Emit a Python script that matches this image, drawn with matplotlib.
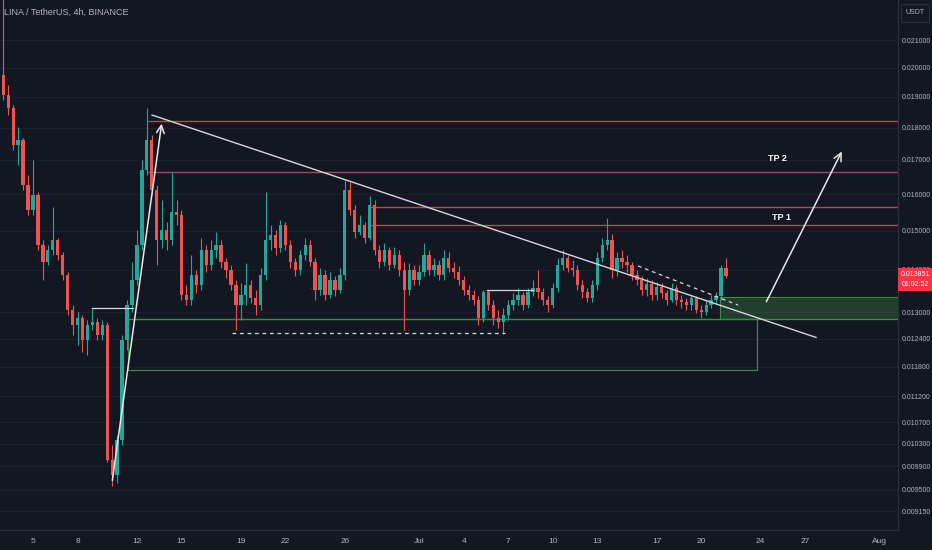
import numpy as np
import matplotlib
matplotlib.use("Agg")
import matplotlib.pyplot as plt
from matplotlib.patches import Rectangle
from matplotlib.ticker import FixedLocator, NullLocator, NullFormatter

plt.rcParams['font.family'] = ['Liberation Sans', 'DejaVu Sans']

# 8h candles, prices in 1e-5 USDT, first candle starts Jun 3
first_open = 1974
closes = [1906, 1862, 1745, 1760, 1626, 1556, 1598, 1463, 1420, 1450,
          1476, 1437, 1388, 1304, 1270, 1286, 1237, 1270, 1277, 1248,
          1270, 1001, 975, 1037, 1237, 1316, 1375, 1463, 1670, 1760,
          1612, 1476, 1502, 1476, 1551, 1542, 1339, 1328, 1388, 1363,
          1450, 1413, 1450, 1463, 1420, 1400, 1363, 1316, 1339, 1363,
          1333, 1316, 1388, 1476, 1489, 1455, 1515, 1463, 1420, 1400,
          1437, 1463, 1420, 1351, 1388, 1339, 1375, 1351, 1388, 1612,
          1556, 1497, 1515, 1481, 1570, 1450, 1420, 1450, 1413, 1437,
          1400, 1351, 1400, 1375, 1395, 1437, 1400, 1413, 1388, 1430,
          1405, 1395, 1375, 1351, 1339, 1328, 1286, 1346, 1316, 1286,
          1277, 1293, 1316, 1328, 1339, 1316, 1346, 1356, 1346, 1328,
          1316, 1356, 1413, 1430, 1405, 1400, 1363, 1346, 1333, 1363,
          1430, 1463, 1476, 1400, 1430, 1420, 1413, 1388, 1375, 1351,
          1366, 1339, 1358, 1344, 1328, 1356, 1328, 1323, 1316, 1333,
          1304, 1300, 1316, 1328, 1337, 1405, 1385]
highs = [2290, 1940, 1872, 1801, 1766, 1655, 1700, 1606, 1476, 1463,
         1564, 1481, 1445, 1395, 1316, 1300, 1293, 1282, 1309, 1286,
         1282, 1277, 1028, 1046, 1248, 1328, 1420, 1502, 1700, 1862,
         1776, 1626, 1584, 1524, 1664, 1584, 1556, 1363, 1437, 1400,
         1481, 1463, 1476, 1497, 1476, 1430, 1413, 1375, 1368, 1418,
         1375, 1351, 1405, 1606, 1515, 1502, 1529, 1524, 1476, 1430,
         1450, 1481, 1476, 1430, 1405, 1400, 1395, 1385, 1405, 1641,
         1635, 1570, 1542, 1524, 1595, 1584, 1463, 1468, 1458, 1458,
         1450, 1420, 1418, 1413, 1413, 1468, 1450, 1430, 1425, 1450,
         1445, 1420, 1410, 1385, 1363, 1351, 1337, 1351, 1351, 1328,
         1304, 1309, 1328, 1344, 1356, 1346, 1356, 1375, 1400, 1356,
         1337, 1368, 1430, 1450, 1437, 1425, 1413, 1375, 1356, 1375,
         1445, 1481, 1535, 1492, 1445, 1450, 1437, 1420, 1400, 1385,
         1380, 1375, 1370, 1368, 1351, 1368, 1363, 1339, 1333, 1339,
         1337, 1316, 1328, 1339, 1346, 1413, 1430]
lows = [1889, 1840, 1730, 1685, 1612, 1542, 1542, 1450, 1375, 1413,
        1437, 1425, 1375, 1293, 1248, 1226, 1212, 1205, 1259, 1237,
        1237, 997, 957, 961, 1028, 1216, 1300, 1363, 1450, 1655,
        1598, 1413, 1455, 1450, 1463, 1515, 1328, 1316, 1316, 1344,
        1351, 1395, 1400, 1430, 1405, 1380, 1351, 1259, 1282, 1316,
        1321, 1293, 1304, 1375, 1450, 1437, 1445, 1450, 1405, 1385,
        1388, 1425, 1410, 1328, 1339, 1328, 1333, 1337, 1344, 1375,
        1542, 1481, 1489, 1468, 1476, 1437, 1405, 1410, 1400, 1405,
        1385, 1259, 1339, 1363, 1363, 1385, 1388, 1385, 1375, 1375,
        1395, 1380, 1363, 1339, 1328, 1316, 1270, 1277, 1304, 1270,
        1264, 1250, 1282, 1304, 1316, 1304, 1309, 1337, 1333, 1316,
        1300, 1309, 1346, 1400, 1395, 1385, 1351, 1333, 1323, 1323,
        1351, 1420, 1450, 1380, 1385, 1405, 1395, 1375, 1363, 1339,
        1337, 1328, 1328, 1333, 1316, 1323, 1316, 1309, 1304, 1304,
        1297, 1286, 1293, 1309, 1321, 1328, 1380]

date_ticks = [5, 8, 12, 15, 19, 22, 26, 31, 34, 37, 40, 43, 47, 50, 54, 57, 62]
date_labels = ["5", "8", "12", "15", "19", "22", "26", "Jul", "4", "7",
               "10", "13", "17", "20", "24", "27", "Aug"]
price_ticks = [0.021, 0.020, 0.019, 0.018, 0.017, 0.016, 0.015, 0.014, 0.013,
               0.0124, 0.0118, 0.0112, 0.0107, 0.0103, 0.0099, 0.0095, 0.00915]

BG = "#131722"
UP = "#26a69a"
DOWN = "#ef5350"
TXT = "#b2b5be"

c = np.array(closes) / 1e5
h = np.array(highs) / 1e5
l = np.array(lows) / 1e5
o = np.concatenate([[first_open / 1e5], c[:-1]])
t = 3.0 + np.arange(len(c)) / 3.0  # days since Jun 0
cols = [UP if cc >= oo else DOWN for oo, cc in zip(o, c)]

fig = plt.figure(figsize=(9.32, 5.5), dpi=100, facecolor=BG)
ax = fig.add_axes([0, 20 / 550, 898 / 932, 530 / 550])
ax.set_facecolor(BG)
ax.set_yscale("log")
ax.set_xlim(2.78, 63.25)
ax.set_ylim(0.00885, 0.02254)

for p in price_ticks:
    ax.axhline(p, color="#1c202c", lw=0.8, zorder=0)

ax.vlines(t, l, h, colors=cols, lw=0.8, zorder=3)
ax.bar(t, np.maximum(np.abs(c - o), 1e-6), bottom=np.minimum(o, c), width=0.22,
       color=cols, zorder=4, linewidth=0)

# resistance levels
ax.hlines(0.01821, 12.75, 63.25, colors="#c2404f", lw=1.0, zorder=2)
ax.hlines(0.01664, 12.75, 63.25, colors="#a2486a", lw=1.0, zorder=2)
ax.hlines([0.01564, 0.01515], 27.7, 63.25, colors="#c2404f", lw=1.0, zorder=2)

# green zones
ax.add_patch(Rectangle((51.27, 0.01284), 63.25 - 51.27, 0.01335 - 0.01284,
                       facecolor=(0.30, 0.69, 0.31, 0.25), edgecolor="#3c8a40",
                       lw=0.8, zorder=2))
ax.add_patch(Rectangle((11.40, 0.01173), 53.76 - 11.40, 0.01284 - 0.01173,
                       facecolor="none", edgecolor="#3c8a40", lw=0.9, zorder=2))
ax.hlines(0.01284, 11.40, 63.25, colors="#3c8a40", lw=0.9, zorder=2)

# trend lines
ax.plot([13.02, 57.73], [0.01840, 0.01243], color="#d8d8d8", lw=1.0, zorder=5)
ax.plot([45.74, 52.48], [0.01410, 0.01316], color="#d8d8d8", lw=0.9, ls=(0, (3, 3)), zorder=5)
ax.plot([18.40, 36.79], [0.01252, 0.01252], color="#d8d8d8", lw=0.9, ls=(0, (3, 3)), zorder=5)
ax.plot([8.98, 11.74], [0.01309, 0.01309], color="#d8d8d8", lw=0.9, zorder=5)
ax.plot([35.57, 38.67], [0.01351, 0.01351], color="#d8d8d8", lw=0.9, zorder=5)

# arrows
for (x0, y0), (x1, y1) in [((10.32, 0.00961), (13.69, 0.01821)),
                           ((54.30, 0.01318), (59.55, 0.01733))]:
    ax.annotate("", xy=(x1, y1), xytext=(x0, y0),
                arrowprops=dict(arrowstyle="->", color="#e8e8e8", lw=1.1,
                                mutation_scale=14), zorder=6)

ax.text(54.50, 0.01703, "TP 2", color="white", fontsize=6.5, fontweight="bold",
        ha="left", va="center", zorder=6)
ax.text(54.77, 0.01537, "TP 1", color="white", fontsize=6.5, fontweight="bold",
        ha="left", va="center", zorder=6)

# axes styling
ax.yaxis.tick_right()
ax.yaxis.set_major_locator(FixedLocator(price_ticks))
ax.yaxis.set_minor_locator(NullLocator())
ax.yaxis.set_minor_formatter(NullFormatter())
ax.set_yticklabels(["%.6f" % p for p in price_ticks])
ax.set_xticks(date_ticks)
ax.set_xticklabels(date_labels)
ax.tick_params(axis="both", length=0, colors=TXT, labelsize=6)
ax.tick_params(axis="y", pad=3, labelsize=5.0)
ax.tick_params(axis="x", pad=6)
for side in ["top", "left"]:
    ax.spines[side].set_visible(False)
for side in ["right", "bottom"]:
    ax.spines[side].set_color("#2a2e39")
    ax.spines[side].set_linewidth(1.0)

fig.text(4 / 932, 1 - 12 / 550, "LINA / TetherUS, 4h, BINANCE", color=TXT,
         fontsize=6.5, ha="left", va="center")

# currency box and last price tag
fig.patches.append(Rectangle((901 / 932, 1 - 22 / 550), 28 / 932, 18 / 550,
                             transform=fig.transFigure, facecolor=BG,
                             edgecolor="#2a2e39", lw=0.8))
fig.text(915 / 932, 1 - 13 / 550, "USDT", color=TXT, fontsize=5.0, ha="center", va="center")
fig.patches.append(Rectangle((898 / 932, 1 - 291 / 550), 34 / 932, 23 / 550,
                             transform=fig.transFigure, facecolor="#f23645",
                             edgecolor="none", zorder=10))
fig.text(915 / 932, 1 - 274 / 550, "0.013851", color="white", fontsize=5.0,
         ha="center", va="center", zorder=11)
fig.text(915 / 932, 1 - 285 / 550, "01:02:52", color="white", fontsize=5.0,
         ha="center", va="center", zorder=11)

fig.savefig("out.png", dpi=100, facecolor=BG)
